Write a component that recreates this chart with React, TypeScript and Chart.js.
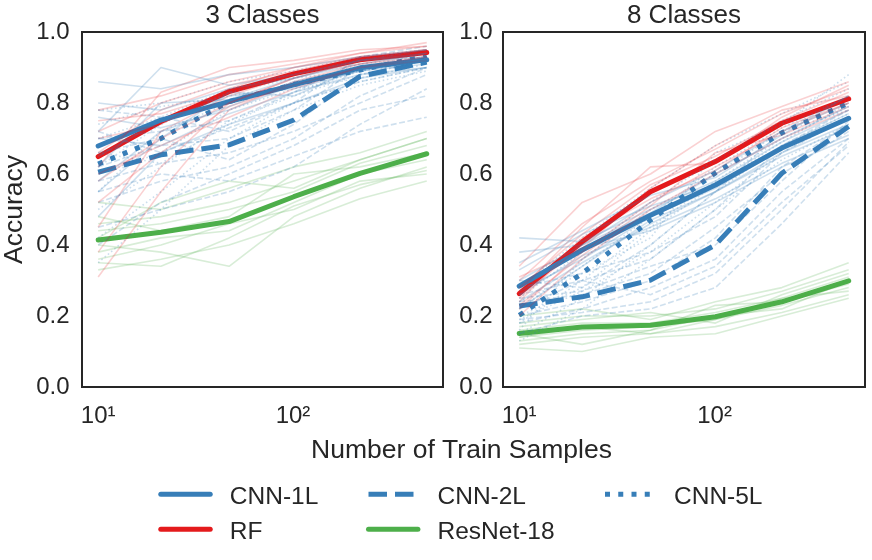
import React, { useEffect, useRef } from 'react';
import { Chart, registerables } from 'chart.js';

Chart.register(...registerables);

// ---------------- data ----------------
const trainSamples = [10, 21, 47, 101, 221, 486];
const xTickValues = [10, 100];
const xTickLabels = ['10¹', '10²'];
const yTickValues = [0, 0.2, 0.4, 0.6, 0.8, 1.0];
const panelTitles = ['3 Classes', '8 Classes'];
const xAxisTitle = 'Number of Train Samples';
const yAxisTitle = 'Accuracy';
const legendOrder = ['CNN-1L', 'RF', 'CNN-2L', 'ResNet-18', 'CNN-5L'];

// ---- 3 classes: mean curves ----
const cnn1Mean3 = [0.679, 0.752, 0.804, 0.851, 0.899, 0.922];
const rfMean3 = [0.649, 0.748, 0.832, 0.882, 0.922, 0.942];
const cnn2Mean3 = [0.605, 0.654, 0.682, 0.752, 0.875, 0.915];
const resnetMean3 = [0.414, 0.436, 0.466, 0.536, 0.602, 0.657];
const cnn5Mean3 = [0.628, 0.700, 0.804, 0.852, 0.893, 0.932];

// ---- 3 classes: individual trials ----
const cnn1Trials3 = [
  [0.86, 0.84, 0.88, 0.90, 0.93, 0.95],
  [0.58, 0.72, 0.79, 0.86, 0.90, 0.93],
  [0.72, 0.90, 0.85, 0.88, 0.92, 0.94],
  [0.48, 0.66, 0.74, 0.80, 0.87, 0.90],
  [0.80, 0.78, 0.84, 0.87, 0.92, 0.93],
  [0.65, 0.75, 0.82, 0.84, 0.89, 0.92],
  [0.70, 0.68, 0.77, 0.83, 0.88, 0.90],
  [0.62, 0.80, 0.81, 0.87, 0.91, 0.94],
  [0.76, 0.73, 0.78, 0.85, 0.89, 0.91],
  [0.55, 0.70, 0.83, 0.82, 0.90, 0.92],
];
const rfTrials3 = [
  [0.31, 0.55, 0.78, 0.86, 0.91, 0.94],
  [0.72, 0.80, 0.86, 0.90, 0.93, 0.95],
  [0.58, 0.70, 0.80, 0.87, 0.92, 0.94],
  [0.78, 0.82, 0.88, 0.91, 0.94, 0.96],
  [0.52, 0.66, 0.79, 0.85, 0.90, 0.93],
  [0.66, 0.78, 0.85, 0.89, 0.93, 0.95],
  [0.45, 0.72, 0.82, 0.88, 0.91, 0.93],
  [0.70, 0.74, 0.84, 0.90, 0.94, 0.97],
  [0.62, 0.83, 0.90, 0.92, 0.95, 0.96],
  [0.60, 0.68, 0.76, 0.84, 0.90, 0.92],
  [0.38, 0.62, 0.80, 0.87, 0.92, 0.95],
  [0.75, 0.77, 0.83, 0.88, 0.93, 0.94],
];
const cnn2Trials3 = [
  [0.52, 0.58, 0.62, 0.70, 0.82, 0.90],
  [0.70, 0.72, 0.75, 0.83, 0.92, 0.95],
  [0.45, 0.50, 0.55, 0.62, 0.74, 0.84],
  [0.62, 0.68, 0.70, 0.78, 0.90, 0.93],
  [0.78, 0.76, 0.72, 0.80, 0.93, 0.96],
  [0.58, 0.63, 0.66, 0.72, 0.80, 0.88],
  [0.40, 0.52, 0.60, 0.68, 0.78, 0.82],
  [0.66, 0.70, 0.64, 0.74, 0.88, 0.92],
  [0.55, 0.60, 0.58, 0.65, 0.72, 0.76],
  [0.72, 0.66, 0.73, 0.80, 0.86, 0.90],
];
const resnetTrials3 = [
  [0.33, 0.36, 0.40, 0.46, 0.53, 0.58],
  [0.46, 0.48, 0.52, 0.58, 0.64, 0.70],
  [0.38, 0.42, 0.44, 0.52, 0.60, 0.64],
  [0.52, 0.50, 0.56, 0.62, 0.66, 0.72],
  [0.40, 0.38, 0.34, 0.48, 0.56, 0.62],
  [0.44, 0.46, 0.50, 0.55, 0.63, 0.68],
  [0.36, 0.40, 0.46, 0.50, 0.58, 0.60],
  [0.48, 0.44, 0.48, 0.60, 0.62, 0.66],
  [0.42, 0.52, 0.58, 0.56, 0.64, 0.70],
  [0.35, 0.34, 0.42, 0.51, 0.57, 0.61],
];
const cnn5Trials3 = [
  [0.50, 0.62, 0.75, 0.82, 0.88, 0.92],
  [0.70, 0.76, 0.84, 0.88, 0.92, 0.95],
  [0.42, 0.55, 0.70, 0.80, 0.86, 0.90],
  [0.78, 0.80, 0.86, 0.89, 0.93, 0.95],
  [0.60, 0.66, 0.78, 0.84, 0.87, 0.91],
  [0.55, 0.72, 0.80, 0.86, 0.90, 0.94],
  [0.66, 0.63, 0.74, 0.83, 0.89, 0.93],
  [0.35, 0.50, 0.68, 0.78, 0.85, 0.89],
  [0.74, 0.79, 0.82, 0.85, 0.91, 0.93],
  [0.62, 0.74, 0.83, 0.87, 0.89, 0.92],
];

// ---- 8 classes: mean curves ----
const cnn1Mean8 = [0.284, 0.386, 0.484, 0.569, 0.673, 0.757];
const rfMean8 = [0.263, 0.409, 0.550, 0.635, 0.743, 0.812];
const cnn2Mean8 = [0.228, 0.254, 0.301, 0.400, 0.602, 0.734];
const resnetMean8 = [0.151, 0.169, 0.174, 0.198, 0.240, 0.299];
const cnn5Mean8 = [0.202, 0.320, 0.470, 0.603, 0.716, 0.800];

// ---- 8 classes: individual trials ----
const cnn1Trials8 = [
  [0.42, 0.41, 0.50, 0.58, 0.69, 0.78],
  [0.24, 0.35, 0.46, 0.55, 0.66, 0.74],
  [0.30, 0.40, 0.49, 0.60, 0.70, 0.79],
  [0.38, 0.40, 0.52, 0.61, 0.72, 0.80],
  [0.26, 0.37, 0.45, 0.53, 0.63, 0.71],
  [0.33, 0.43, 0.51, 0.57, 0.68, 0.77],
  [0.22, 0.34, 0.47, 0.55, 0.65, 0.73],
  [0.29, 0.39, 0.44, 0.52, 0.62, 0.70],
  [0.35, 0.44, 0.54, 0.59, 0.71, 0.82],
  [0.27, 0.36, 0.48, 0.56, 0.67, 0.76],
];
const rfTrials8 = [
  [0.22, 0.38, 0.52, 0.62, 0.72, 0.80],
  [0.30, 0.46, 0.58, 0.67, 0.77, 0.84],
  [0.25, 0.40, 0.55, 0.64, 0.74, 0.81],
  [0.34, 0.52, 0.60, 0.72, 0.79, 0.86],
  [0.20, 0.36, 0.50, 0.60, 0.70, 0.78],
  [0.28, 0.43, 0.57, 0.65, 0.75, 0.83],
  [0.24, 0.42, 0.53, 0.61, 0.73, 0.80],
  [0.31, 0.39, 0.56, 0.68, 0.78, 0.82],
  [0.27, 0.45, 0.62, 0.63, 0.76, 0.85],
  [0.23, 0.37, 0.51, 0.66, 0.71, 0.79],
];
const cnn2Trials8 = [
  [0.18, 0.22, 0.28, 0.36, 0.55, 0.70],
  [0.26, 0.30, 0.36, 0.50, 0.68, 0.78],
  [0.20, 0.24, 0.30, 0.42, 0.62, 0.74],
  [0.30, 0.28, 0.40, 0.55, 0.72, 0.82],
  [0.15, 0.20, 0.22, 0.28, 0.46, 0.66],
  [0.24, 0.26, 0.32, 0.45, 0.60, 0.72],
  [0.22, 0.30, 0.26, 0.34, 0.52, 0.68],
  [0.28, 0.32, 0.38, 0.48, 0.66, 0.76],
  [0.19, 0.21, 0.24, 0.32, 0.50, 0.69],
  [0.25, 0.27, 0.34, 0.40, 0.58, 0.75],
];
const resnetTrials8 = [
  [0.12, 0.14, 0.15, 0.17, 0.21, 0.26],
  [0.18, 0.20, 0.20, 0.22, 0.27, 0.33],
  [0.14, 0.16, 0.17, 0.19, 0.23, 0.28],
  [0.20, 0.22, 0.19, 0.24, 0.28, 0.35],
  [0.11, 0.10, 0.14, 0.15, 0.20, 0.25],
  [0.16, 0.18, 0.18, 0.21, 0.25, 0.31],
  [0.13, 0.15, 0.16, 0.20, 0.22, 0.30],
  [0.17, 0.19, 0.21, 0.18, 0.26, 0.32],
  [0.15, 0.12, 0.16, 0.23, 0.24, 0.29],
  [0.14, 0.17, 0.15, 0.19, 0.25, 0.27],
];
const cnn5Trials8 = [
  [0.15, 0.25, 0.40, 0.55, 0.68, 0.77],
  [0.25, 0.38, 0.52, 0.64, 0.75, 0.84],
  [0.18, 0.30, 0.45, 0.58, 0.70, 0.79],
  [0.28, 0.42, 0.56, 0.68, 0.77, 0.86],
  [0.13, 0.22, 0.36, 0.50, 0.64, 0.74],
  [0.22, 0.34, 0.48, 0.62, 0.73, 0.82],
  [0.20, 0.28, 0.44, 0.57, 0.69, 0.80],
  [0.16, 0.36, 0.50, 0.60, 0.72, 0.78],
  [0.24, 0.32, 0.42, 0.66, 0.74, 0.88],
  [0.19, 0.27, 0.38, 0.52, 0.66, 0.76],
];

// ---------------- styling ----------------
const FONT = "'Liberation Sans', Arial, sans-serif";
const INK = '#262626';
const X_MIN = 8.26;
const X_MAX = 589;

type Style = { color: string; rgb: string; kind: 'solid' | 'dashed' | 'dotted'; alpha: number };
const MODEL_STYLE: Record<string, Style> = {
  'CNN-1L': { color: '#377eb8', rgb: '55,126,184', kind: 'solid', alpha: 0.24 },
  'RF': { color: '#e41a1c', rgb: '228,26,28', kind: 'solid', alpha: 0.2 },
  'CNN-2L': { color: '#377eb8', rgb: '55,126,184', kind: 'dashed', alpha: 0.24 },
  'ResNet-18': { color: '#4daf4a', rgb: '77,175,74', kind: 'solid', alpha: 0.22 },
  'CNN-5L': { color: '#377eb8', rgb: '55,126,184', kind: 'dotted', alpha: 0.26 },
};

const BOLD_W = 5;
const TRIAL_W = 1.6;
function dashFor(kind: string, w: number) {
  if (kind === 'dashed') return [3.7 * w, 1.6 * w];
  if (kind === 'dotted') return [1 * w, 1.65 * w];
  return [];
}

type PanelData = Record<string, { mean: number[]; trials: number[][] }>;
const panel3: PanelData = {
  'CNN-1L': { mean: cnn1Mean3, trials: cnn1Trials3 },
  'RF': { mean: rfMean3, trials: rfTrials3 },
  'CNN-2L': { mean: cnn2Mean3, trials: cnn2Trials3 },
  'ResNet-18': { mean: resnetMean3, trials: resnetTrials3 },
  'CNN-5L': { mean: cnn5Mean3, trials: cnn5Trials3 },
};
const panel8: PanelData = {
  'CNN-1L': { mean: cnn1Mean8, trials: cnn1Trials8 },
  'RF': { mean: rfMean8, trials: rfTrials8 },
  'CNN-2L': { mean: cnn2Mean8, trials: cnn2Trials8 },
  'ResNet-18': { mean: resnetMean8, trials: resnetTrials8 },
  'CNN-5L': { mean: cnn5Mean8, trials: cnn5Trials8 },
};

const toPoints = (ys: number[]) => trainSamples.map((x, i) => ({ x, y: ys[i] }));

function buildDatasets(panel: PanelData) {
  const sets: any[] = [];
  legendOrder.forEach((name) => {
    const st = MODEL_STYLE[name];
    panel[name].trials.forEach((t, k) => {
      sets.push({
        label: `${name} trial ${k + 1}`,
        data: toPoints(t),
        borderColor: `rgba(${st.rgb},${st.alpha})`,
        borderWidth: TRIAL_W,
        borderDash: dashFor(st.kind, TRIAL_W),
        borderCapStyle: 'butt',
        borderJoinStyle: 'round',
        pointRadius: 0,
        fill: false,
        tension: 0,
      });
    });
  });
  legendOrder.forEach((name) => {
    const st = MODEL_STYLE[name];
    sets.push({
      label: name,
      data: toPoints(panel[name].mean),
      borderColor: st.color,
      borderWidth: BOLD_W,
      borderDash: dashFor(st.kind, BOLD_W),
      borderCapStyle: st.kind === 'solid' ? 'round' : 'butt',
      borderJoinStyle: 'round',
      pointRadius: 0,
      fill: false,
      tension: 0,
    });
  });
  return sets;
}

const framePlugin = {
  id: 'frame',
  afterDatasetsDraw(chart: any) {
    const { ctx, chartArea: a } = chart;
    ctx.save();
    ctx.strokeStyle = INK;
    ctx.lineWidth = 2;
    ctx.strokeRect(a.left, a.top, a.right - a.left, a.bottom - a.top);
    ctx.restore();
  },
};

const LEGEND_COLS = [160.8, 368.5, 605];
const LEGEND_ROWS = [494.3, 529.3];
const HANDLE_LEN = 49.4;

const figureTextPlugin = {
  id: 'figureText',
  afterDraw(chart: any) {
    const ctx = chart.ctx as CanvasRenderingContext2D;
    ctx.save();
    ctx.fillStyle = INK;
    ctx.font = `26.5px ${FONT}`;
    ctx.textAlign = 'center';
    ctx.textBaseline = 'alphabetic';
    ctx.fillText(xAxisTitle, 461.5, 458);

    legendOrder.forEach((name, i) => {
      const st = MODEL_STYLE[name];
      const col = Math.floor(i / 2);
      const row = i % 2;
      const x0 = LEGEND_COLS[col];
      const y = LEGEND_ROWS[row];
      ctx.beginPath();
      ctx.setLineDash(dashFor(st.kind, BOLD_W));
      ctx.lineCap = st.kind === 'solid' ? 'round' : 'butt';
      ctx.lineWidth = BOLD_W;
      ctx.strokeStyle = st.color;
      ctx.moveTo(x0, y);
      ctx.lineTo(x0 + HANDLE_LEN, y);
      ctx.stroke();
      ctx.setLineDash([]);
      ctx.font = `24.5px ${FONT}`;
      ctx.textAlign = 'left';
      ctx.fillText(name, x0 + 69, y + 9.5);
    });
    ctx.restore();
  },
};

function makeConfig(panel: PanelData, title: string, opts: { padRight: number; yWidth: number; xHeight: number; yPad: number; showYTitle: boolean; extra: any[] }) {
  return {
    type: 'line' as const,
    data: { datasets: buildDatasets(panel) },
    options: {
      animation: false as const,
      responsive: false,
      devicePixelRatio: 1,
      events: [],
      layout: { padding: { left: 0, top: 0, right: opts.padRight, bottom: 0 } },
      plugins: {
        legend: { display: false },
        tooltip: { enabled: false },
        title: {
          display: true,
          text: title,
          fullSize: false,
          color: INK,
          font: { family: FONT, size: 26, weight: 'normal' as const, lineHeight: 1 },
          padding: { top: 3, bottom: 3 },
        },
      },
      scales: {
        x: {
          type: 'logarithmic' as const,
          min: X_MIN,
          max: X_MAX,
          afterFit: (s: any) => { s.height = opts.xHeight; },
          afterBuildTicks: (s: any) => { s.ticks = xTickValues.map((v) => ({ value: v })); },
          grid: { display: false, drawTicks: false },
          border: { display: false },
          ticks: {
            color: INK,
            font: { family: FONT, size: 24 },
            padding: 15,
            maxRotation: 0,
            autoSkip: false,
            callback: (v: any) => {
              const k = xTickValues.indexOf(Number(v));
              return k >= 0 ? xTickLabels[k] : '';
            },
          },
        },
        y: {
          type: 'linear' as const,
          min: 0,
          max: 1,
          afterFit: (s: any) => { s.width = opts.yWidth; },
          afterBuildTicks: (s: any) => { s.ticks = yTickValues.map((v) => ({ value: v })); },
          grid: { display: false, drawTicks: false },
          border: { display: false },
          ticks: {
            color: INK,
            font: { family: FONT, size: 24 },
            padding: opts.yPad,
            callback: (v: any) => Number(v).toFixed(1),
          },
          title: {
            display: opts.showYTitle,
            text: yAxisTitle,
            color: INK,
            font: { family: FONT, size: 26.5, lineHeight: 1 },
            padding: { top: 1, bottom: 0 },
          },
        },
      },
    },
    plugins: [framePlugin, ...opts.extra],
  };
}

export default function App() {
  const leftRef = useRef<HTMLCanvasElement>(null);
  const rightRef = useRef<HTMLCanvasElement>(null);

  useEffect(() => {
    const left = new Chart(
      leftRef.current as HTMLCanvasElement,
      makeConfig(panel3, panelTitles[0], { padRight: 872 - 443, yWidth: 82, xHeight: 560 - 387, yPad: 12.5, showYTitle: true, extra: [figureTextPlugin] }) as any
    );
    const right = new Chart(
      rightRef.current as HTMLCanvasElement,
      makeConfig(panel8, panelTitles[1], { padRight: 7, yWidth: 63, xHeight: 440 - 387, yPad: 10.5, showYTitle: false, extra: [] }) as any
    );
    return () => {
      left.destroy();
      right.destroy();
    };
  }, []);

  return (
    <div style={{ position: 'fixed', left: 0, top: 0, width: 872, height: 560, background: '#ffffff' }}>
      <canvas ref={leftRef} width={872} height={560} style={{ position: 'absolute', left: 0, top: 0, width: 872, height: 560 }} />
      <canvas ref={rightRef} width={432} height={440} style={{ position: 'absolute', left: 440, top: 0, width: 432, height: 440 }} />
    </div>
  );
}
